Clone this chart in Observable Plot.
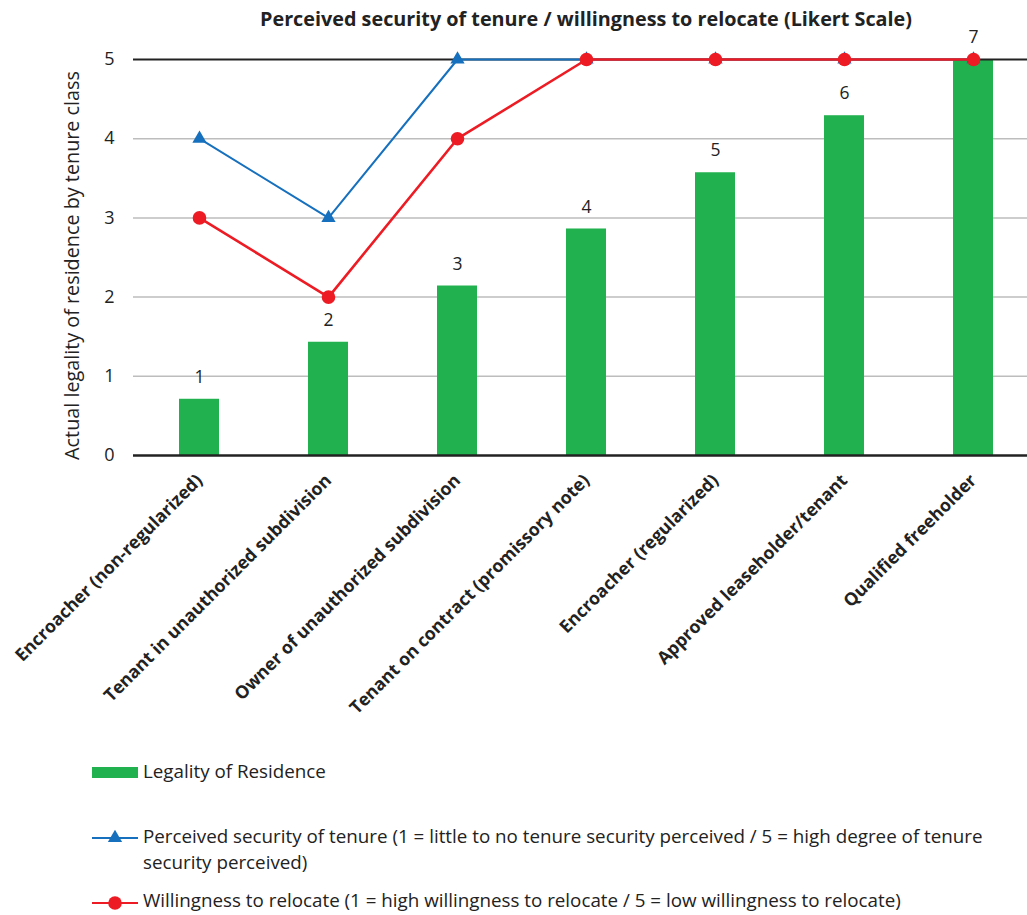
<!DOCTYPE html>
<html>
<head>
<meta charset="utf-8">
<script src="https://cdn.jsdelivr.net/npm/d3@7"></script>
<script src="https://cdn.jsdelivr.net/npm/@observablehq/plot@0.6"></script>
<style>
  html, body { margin: 0; padding: 0; background: #fff; }
  #wrap { position: relative; width: 1027px; height: 915px; overflow: hidden; font-family: "Open Sans", "Liberation Sans", Arial, sans-serif; color: #222; }
  #title { position: absolute; left: 0; width: 1172px; top: 9px; text-align: center; font-weight: bold; font-size: 19.8px; line-height: 20px; }
  #chart { position: absolute; left: 0; top: 0; }
  .leg { position: absolute; left: 92px; font-size: 18.8px; line-height: 26px; display: flex; align-items: flex-start; }
  .leg svg { flex: none; margin-right: 5px; }
  .leg span { display: block; width: 870px; }
</style>
</head>
<body>
<div id="wrap">
  <div id="chart"></div>
  <div id="title"></div>
  <div id="legend"></div>
</div>
<script>
const categories = [
  "Encroacher (non-regularized)",
  "Tenant in unauthorized subdivision",
  "Owner of unauthorized subdivision",
  "Tenant on contract (promissory note)",
  "Encroacher (regularized)",
  "Approved leaseholder/tenant",
  "Qualified freeholder"
];
const legality = [0.71, 1.43, 2.14, 2.86, 3.57, 4.29, 5.0];
const barLabels = ["1", "2", "3", "4", "5", "6", "7"];
const security = [4, 3, 5, 5, 5, 5, 5];
const willingness = [3, 2, 4, 5, 5, 5, 5];
const yTicks = [0, 1, 2, 3, 4, 5];
const gridTicks = [1, 2, 3, 4];

const titleText = "Perceived security of tenure / willingness to relocate (Likert Scale)";
const yLabel = "Actual legality of residence by tenure class";
const seriesNames = [
  "Legality of Residence",
  "Perceived security of tenure (1 = little to no tenure security perceived / 5 = high degree of tenure security perceived)",
  "Willingness to relocate (1 = high willingness to relocate / 5 = low willingness to relocate)"
];

const GREEN = "#21b14f", BLUE = "#1670bd", RED = "#ed1c24";

const rows = categories.map((c, i) => ({
  cat: c, legality: legality[i], label: barLabels[i],
  security: security[i], willingness: willingness[i]
}));

const chart = Plot.plot({
  width: 1027,
  height: 740,
  marginTop: 59,
  marginBottom: 285,
  marginLeft: 133,
  marginRight: 0,
  style: { fontFamily: "'Open Sans', 'Liberation Sans', Arial, sans-serif", fontSize: "18px", color: "#222", background: "transparent" },
  x: { domain: categories, range: [133, 1038], paddingInner: 0.69, paddingOuter: 0.345, align: 0.5 },
  y: { domain: [0, 5], range: [455, 59] },
  marks: [
    Plot.ruleY(gridTicks, { stroke: "#bdbdbd", strokeWidth: 1.5 }),
    Plot.barY(rows, { x: "cat", y: "legality", fill: GREEN }),
    Plot.ruleY([5], { stroke: "#222", strokeWidth: 2 }),
    Plot.ruleY([0], { stroke: "#222", strokeWidth: 2.5 }),
    Plot.ruleX([0], { x: () => 133, stroke: "#222", strokeWidth: 2.5 }),
    Plot.text(rows, { x: "cat", y: "legality", text: "label", dy: -22, fontSize: 17.5, fill: "#222" }),
    Plot.lineY(rows, { x: "cat", y: "security", stroke: BLUE, strokeWidth: 2 }),
    Plot.dot(rows, { x: "cat", y: "security", symbol: "triangle", r: 5.3, fill: BLUE, stroke: "none" }),
    Plot.lineY(rows, { x: "cat", y: "willingness", stroke: RED, strokeWidth: 2.6 }),
    Plot.dot(rows, { x: "cat", y: "willingness", r: 6.8, fill: RED, stroke: "none" }),
    Plot.axisY(yTicks, { tickSize: 0, tickPadding: 19, fontSize: 18, tickFormat: d3.format("d"), label: null }),
    Plot.axisX({ ticks: [], label: null, tickSize: 0 }),
    Plot.text(rows, { x: "cat", frameAnchor: "bottom", text: "cat", rotate: -45, textAnchor: "end",
      dx: 4, dy: 26, fontWeight: "bold", fontSize: 17.7, fill: "#222" }),
    Plot.text([yLabel], { frameAnchor: "left", text: d => d, rotate: -90, textAnchor: "middle", dx: -61, dy: 8, fontSize: 19.8, fill: "#222" })
  ]
});
document.getElementById("chart").appendChild(chart);
document.getElementById("title").textContent = titleText;

const legend = document.getElementById("legend");
function addLeg(top, iconSvg, text) {
  const d = document.createElement("div");
  d.className = "leg";
  d.style.top = top + "px";
  d.innerHTML = iconSvg;
  const s = document.createElement("span");
  s.textContent = text;
  d.appendChild(s);
  legend.appendChild(d);
}
const sym = d3.symbol(d3.symbolTriangle, Math.PI * 5.3 * 5.3)();
addLeg(758, `<svg width="46" height="26"><rect x="0" y="9" width="46" height="11" fill="${GREEN}"/></svg>`, seriesNames[0]);
addLeg(823, `<svg width="46" height="26"><line x1="0" x2="46" y1="15" y2="15" stroke="${BLUE}" stroke-width="2"/><path transform="translate(23,15)" d="${sym}" fill="${BLUE}"/></svg>`, seriesNames[1]);
addLeg(887, `<svg width="46" height="26"><line x1="0" x2="46" y1="16" y2="16" stroke="${RED}" stroke-width="2"/><circle cx="23" cy="16" r="6.8" fill="${RED}"/></svg>`, seriesNames[2]);
</script>
</body>
</html>
